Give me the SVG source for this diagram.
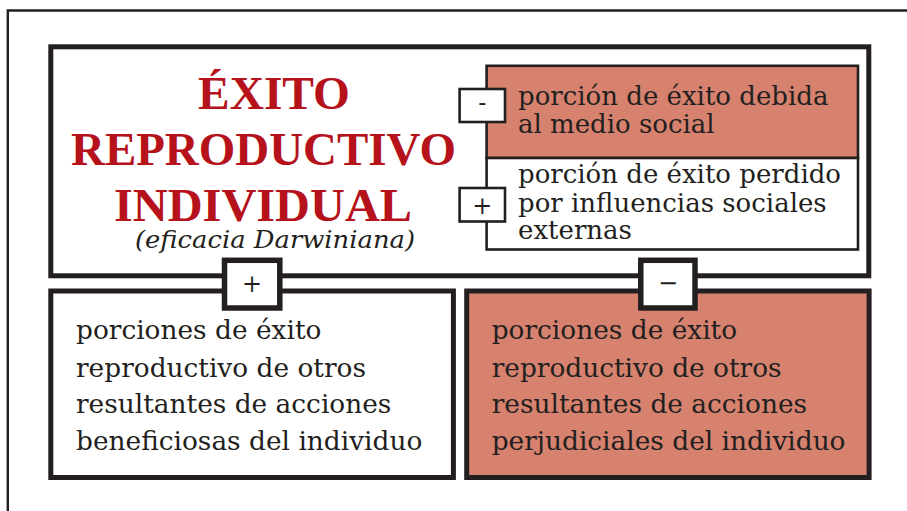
<svg xmlns="http://www.w3.org/2000/svg" width="907" height="511" viewBox="0 0 907 511">
  <style>
    .frame { fill: none; stroke: #231F20; stroke-width: 2.4; }
    .heavy { stroke: #231F20; stroke-width: 5; }
    .thin { stroke: #231F20; stroke-width: 2.6; }
    .white { fill: #FFFFFF; }
    .salmon { fill: #D6826E; }
    .title { font-family: "Liberation Serif", "Times New Roman", serif; font-weight: bold; font-size: 47px; fill: #B5121B; text-anchor: middle; }
    .sub { font-family: "DejaVu Serif", serif; font-style: italic; font-size: 25px; fill: #231F20; text-anchor: middle; }
    .body { font-family: "DejaVu Serif", serif; font-size: 26px; fill: #231F20; }
    .big { font-size: 26.4px; }
    .sign { font-family: "DejaVu Serif", serif; font-size: 24px; fill: #231F20; text-anchor: middle; }
  </style>
  <rect x="0" y="0" width="907" height="511" fill="#FFFFFF"/>
  <path class="frame" d="M7.8,511 V10.5 H907"/>

  <g id="main">
    <rect class="white heavy" x="50.8" y="46.8" width="818" height="229"/>
    <text class="title" x="274" y="109" textLength="152" lengthAdjust="spacingAndGlyphs">ÉXITO</text>
    <text class="title" x="263.5" y="165" textLength="385" lengthAdjust="spacingAndGlyphs">REPRODUCTIVO</text>
    <text class="title" x="263" y="221" textLength="298" lengthAdjust="spacingAndGlyphs">INDIVIDUAL</text>
    <text class="sub" x="275" y="248" textLength="280" lengthAdjust="spacingAndGlyphs">(eficacia Darwiniana)</text>
  </g>

  <g id="social">
    <rect class="salmon thin" x="486.6" y="65.8" width="371.4" height="92.2"/>
    <text class="body" x="518" y="105">porción de éxito debida</text>
    <text class="body" x="518" y="133.3">al medio social</text>
  </g>

  <g id="external">
    <rect class="white thin" x="486.6" y="158" width="371.4" height="91.5"/>
    <text class="body" x="518" y="183.3">porción de éxito perdido</text>
    <text class="body" x="518" y="211.5">por influencias sociales</text>
    <text class="body" x="518" y="238.5">externas</text>
  </g>

  <g id="sign-minus-social">
    <rect class="white thin" x="459.6" y="89" width="45.4" height="33"/>
    <text class="sign" x="482.3" y="111">-</text>
  </g>

  <g id="sign-plus-external">
    <rect class="white thin" x="459.6" y="188" width="45.4" height="33.5"/>
    <text class="sign" x="482.3" y="213.5">+</text>
  </g>

  <g id="beneficial">
    <rect class="white heavy" x="50.8" y="291" width="402.6" height="186.5"/>
    <text class="body big" x="76" y="339.3">porciones de éxito</text>
    <text class="body big" x="76" y="376.5">reproductivo de otros</text>
    <text class="body big" x="76" y="413.3">resultantes de acciones</text>
    <text class="body big" x="76" y="450">beneficiosas del individuo</text>
  </g>

  <g id="harmful">
    <rect class="salmon heavy" x="466.7" y="291" width="402.4" height="186.5"/>
    <text class="body big" x="491.7" y="339.3">porciones de éxito</text>
    <text class="body big" x="491.7" y="376.5">reproductivo de otros</text>
    <text class="body big" x="491.7" y="413.3">resultantes de acciones</text>
    <text class="body big" x="491.7" y="450">perjudiciales del individuo</text>
  </g>

  <g id="connectors">
    <g id="sign-plus-bottom">
      <rect class="white" x="224.5" y="260.3" width="55.3" height="47.7" stroke="#231F20" stroke-width="5.5"/>
      <text class="sign" x="252" y="292">+</text>
    </g>
    <g id="sign-minus-bottom">
      <rect class="white" x="640.8" y="260.3" width="54.2" height="47.7" stroke="#231F20" stroke-width="5.5"/>
      <text class="sign" x="668" y="291">−</text>
    </g>
  </g>
</svg>
